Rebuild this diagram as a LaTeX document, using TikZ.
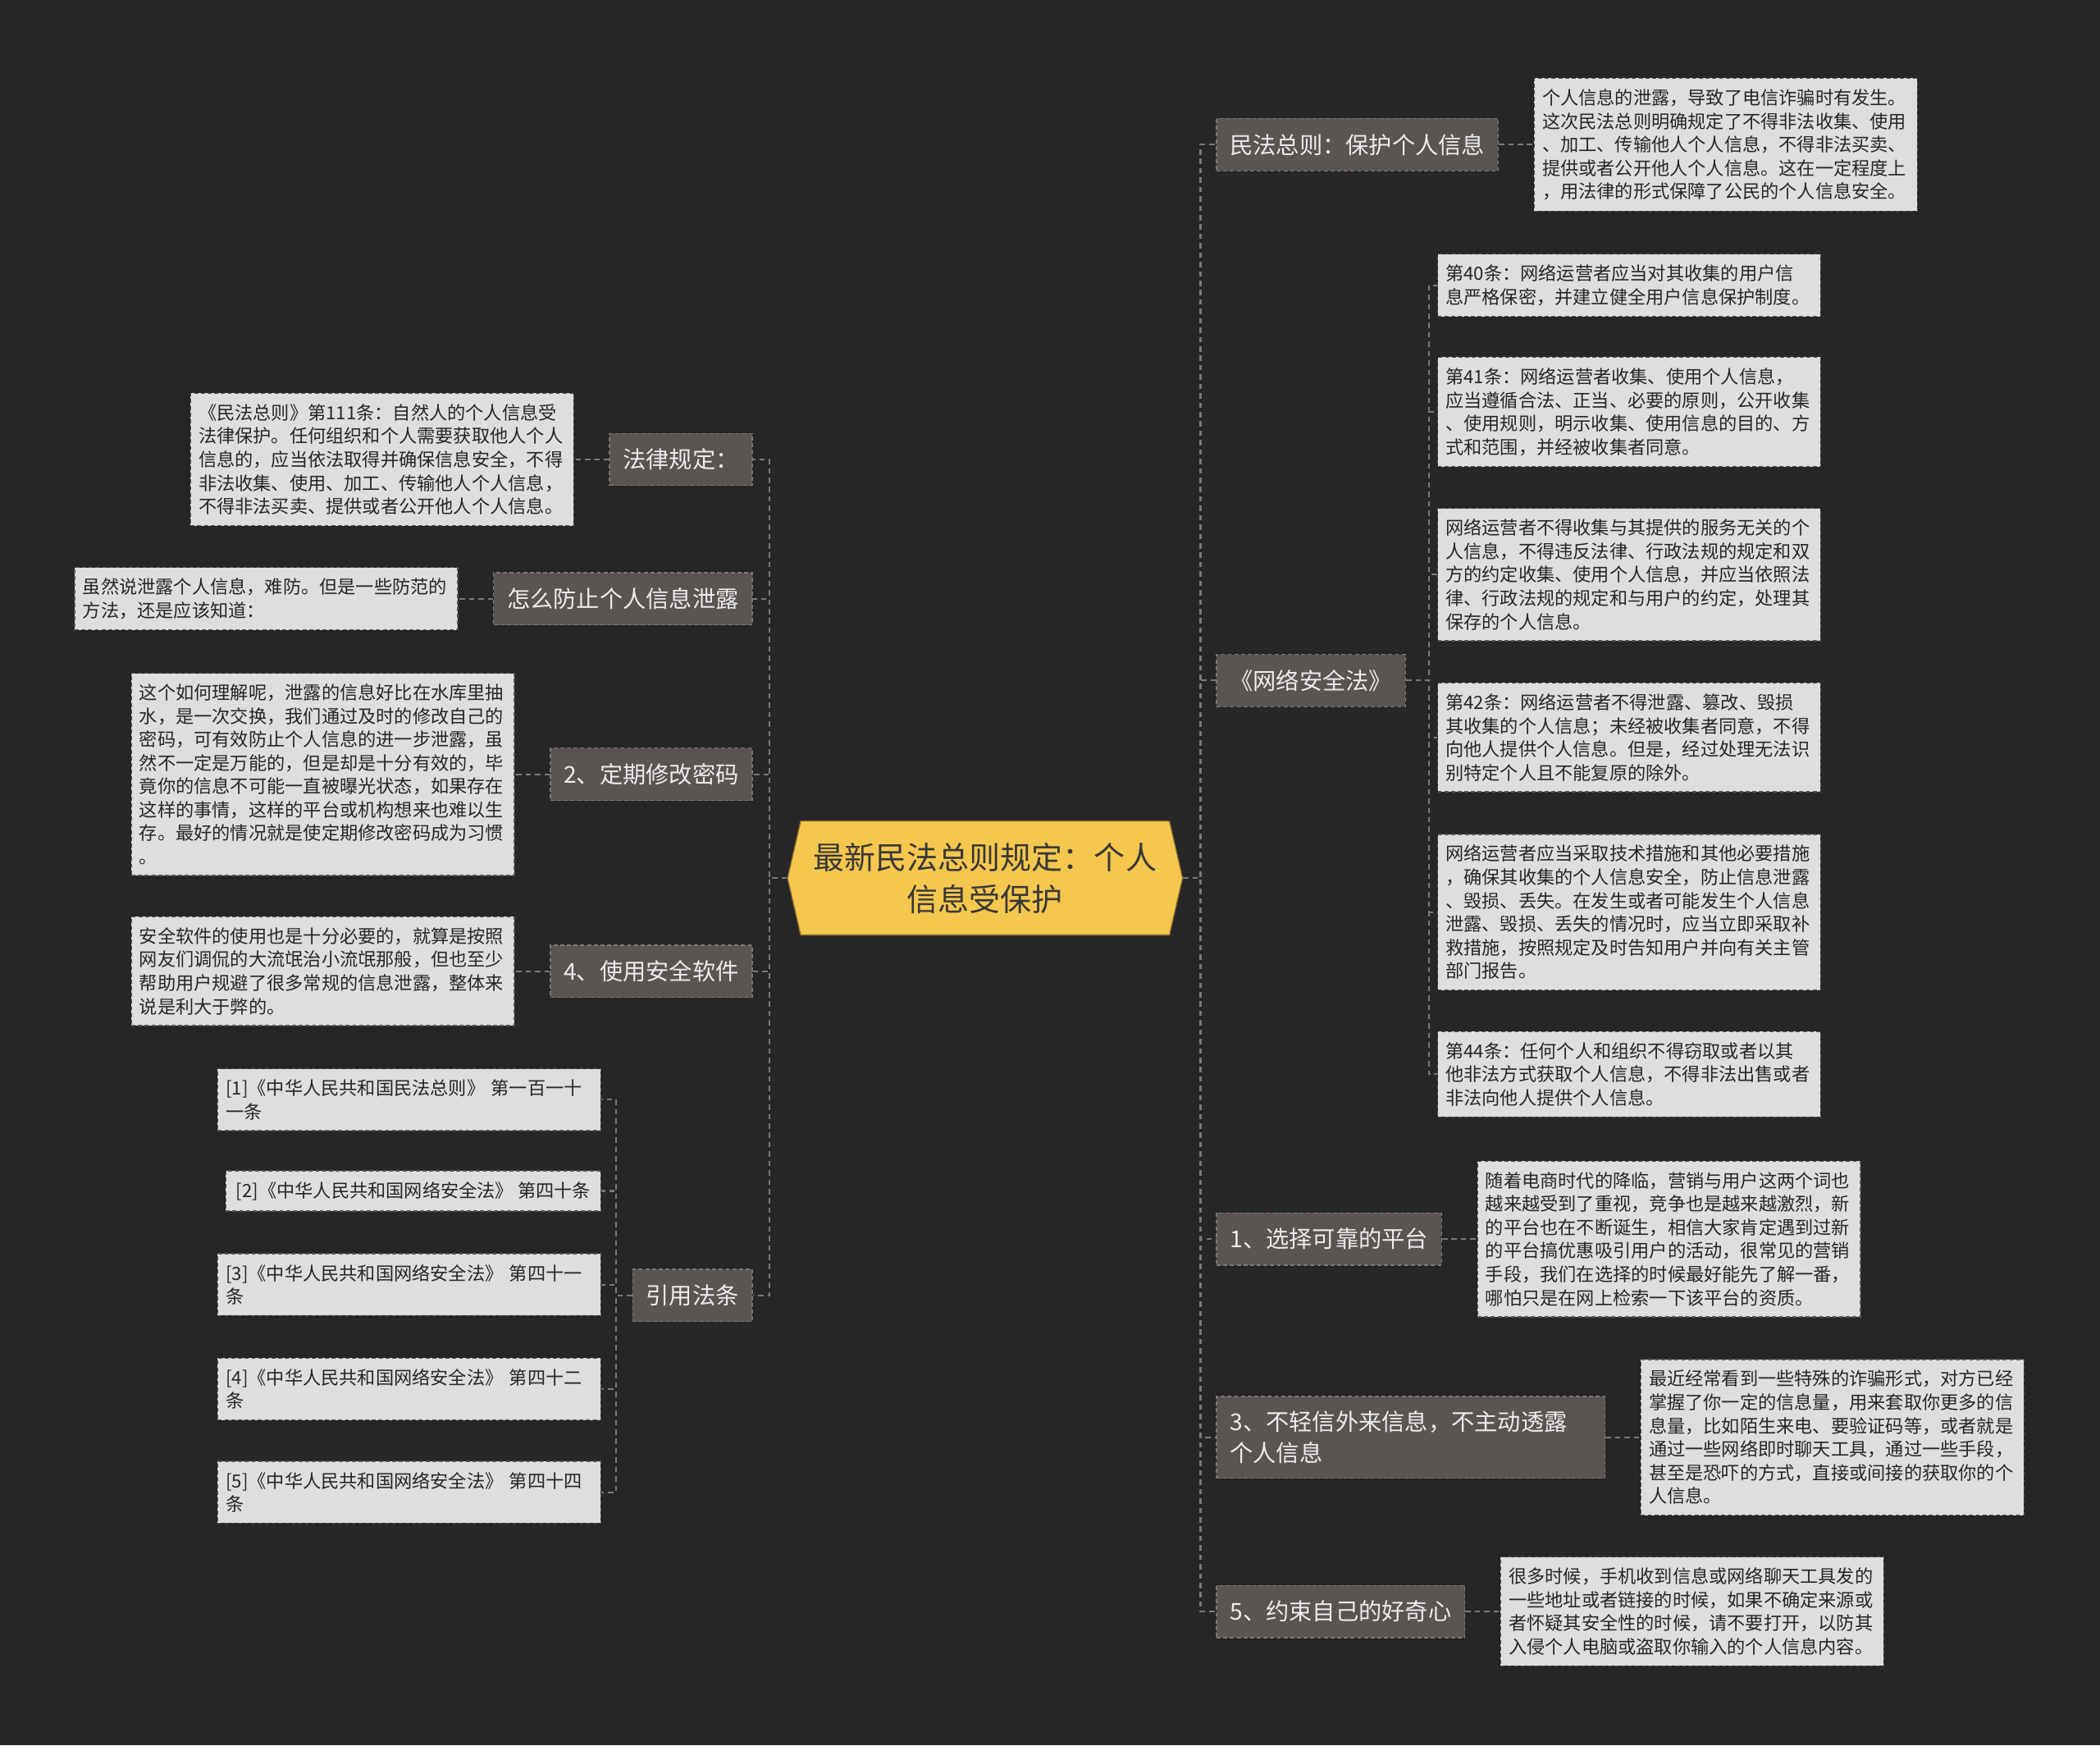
\documentclass[tikz,border=0pt]{standalone}
\usepackage{fontspec}
\setmainfont{Noto Sans CJK SC}
\usepackage{tikz}
\usetikzlibrary{
positioning,
shapes.symbols
}
\definecolor{bgdark}{HTML}{262626}
\definecolor{topicgray}{HTML}{5A5553}
\definecolor{topicline}{HTML}{7C7775}
\definecolor{notegray}{HTML}{DEDEDE}
\definecolor{noteline}{HTML}{555555}
\definecolor{hubyellow}{HTML}{F5C74E}
\definecolor{linkgray}{HTML}{777777}

\begin{document}
\begin{tikzpicture}[
        x=1pt, y=-1pt,
        node distance=26pt,
        hub/.style={signal, signal to=west and east, signal pointer angle=154, fill=hubyellow, draw=hubyellow!55!black, line width=0.8pt, minimum width=295pt, minimum height=85pt, inner sep=0pt, align=center, text=black!78, font=\fontsize{23.3pt}{31pt}\selectfont},
        topic/.style={draw=topicline, dash pattern=on 3pt off 2pt, line width=0.8pt, fill=topicgray, text=white!93!black, font=\fontsize{17.3pt}{23pt}\selectfont, inner xsep=10pt, inner ysep=11pt, minimum height=39pt, align=left},
        notebox/.style={draw=noteline, dash pattern=on 3pt off 2pt, line width=0.8pt, fill=notegray, text=black!85, font=\fontsize{13.6pt}{17.5pt}\selectfont, inner xsep=6pt, inner ysep=8pt, align=left},
        note/.style={notebox, text width=274pt},
        link/.style={draw=linkgray, line width=1.3pt, dash pattern=on 4pt off 3pt}
    ]
        \fill[bgdark] (0,0) rectangle (1568,1303);

        \node[hub] (ctr) at (735.5,655.5) {最新民法总则规定：个人\\信息受保护};

        \node[topic, anchor=west] (b1) at (908,108) {民法总则：保护个人信息};
        \node[note, right=of b1] (d1) {个人信息的泄露，导致了电信诈骗时有发生。\\这次民法总则明确规定了不得非法收集、使用\\、加工、传输他人个人信息，不得非法买卖、\\提供或者公开他人个人信息。这在一定程度上\\，用法律的形式保障了公民的个人信息安全。};

        \node[topic, anchor=west] (b2) at (908,508) {《网络安全法》};
        \node[note, anchor=west] (n40) at (1073,213) {第40条：网络运营者应当对其收集的用户信\\息严格保密，并建立健全用户信息保护制度。};
        \node[note, anchor=west] (n41) at (1073,307.5) {第41条：网络运营者收集、使用个人信息，\\应当遵循合法、正当、必要的原则，公开收集\\、使用规则，明示收集、使用信息的目的、方\\式和范围，并经被收集者同意。};
        \node[note, anchor=west] (n41b) at (1073,429) {网络运营者不得收集与其提供的服务无关的个\\人信息，不得违反法律、行政法规的规定和双\\方的约定收集、使用个人信息，并应当依照法\\律、行政法规的规定和与用户的约定，处理其\\保存的个人信息。};
        \node[note, anchor=west] (n42) at (1073,550.5) {第42条：网络运营者不得泄露、篡改、毁损\\其收集的个人信息；未经被收集者同意，不得\\向他人提供个人信息。但是，经过处理无法识\\别特定个人且不能复原的除外。};
        \node[note, anchor=west] (n42b) at (1073,681) {网络运营者应当采取技术措施和其他必要措施\\，确保其收集的个人信息安全，防止信息泄露\\、毁损、丢失。在发生或者可能发生个人信息\\泄露、毁损、丢失的情况时，应当立即采取补\\救措施，按照规定及时告知用户并向有关主管\\部门报告。};
        \node[note, anchor=west] (n44) at (1073,802) {第44条：任何个人和组织不得窃取或者以其\\他非法方式获取个人信息，不得非法出售或者\\非法向他人提供个人信息。};

        \node[topic, anchor=west] (b3) at (908,925) {1、选择可靠的平台};
        \node[note, right=of b3] (d3) {随着电商时代的降临，营销与用户这两个词也\\越来越受到了重视，竞争也是越来越激烈，新\\的平台也在不断诞生，相信大家肯定遇到过新\\的平台搞优惠吸引用户的活动，很常见的营销\\手段，我们在选择的时候最好能先了解一番，\\哪怕只是在网上检索一下该平台的资质。};

        \node[topic, anchor=west, text width=270pt] (b4) at (908,1073) {3、不轻信外来信息，不主动透露\\个人信息};
        \node[note, right=of b4] (d4) {最近经常看到一些特殊的诈骗形式，对方已经\\掌握了你一定的信息量，用来套取你更多的信\\息量，比如陌生来电、要验证码等，或者就是\\通过一些网络即时聊天工具，通过一些手段，\\甚至是恐吓的方式，直接或间接的获取你的个\\人信息。};

        \node[topic, anchor=west] (b5) at (908,1203) {5、约束自己的好奇心};
        \node[note, right=of b5] (d5) {很多时候，手机收到信息或网络聊天工具发的\\一些地址或者链接的时候，如果不确定来源或\\者怀疑其安全性的时候，请不要打开，以防其\\入侵个人电脑或盗取你输入的个人信息内容。};

        \node[topic, anchor=east] (l1) at (562,343) {法律规定：};
        \node[note, left=of l1] (dl1) {《民法总则》第111条：自然人的个人信息受\\法律保护。任何组织和个人需要获取他人个人\\信息的，应当依法取得并确保信息安全，不得\\非法收集、使用、加工、传输他人个人信息，\\不得非法买卖、提供或者公开他人个人信息。};

        \node[topic, anchor=east] (l2) at (562,447) {怎么防止个人信息泄露};
        \node[note, left=of l2] (dl2) {虽然说泄露个人信息，难防。但是一些防范的\\方法，还是应该知道：};

        \node[topic, anchor=east] (l3) at (562,578) {2、定期修改密码};
        \node[note, left=of l3] (dl3) {这个如何理解呢，泄露的信息好比在水库里抽\\水，是一次交换，我们通过及时的修改自己的\\密码，可有效防止个人信息的进一步泄露，虽\\然不一定是万能的，但是却是十分有效的，毕\\竟你的信息不可能一直被曝光状态，如果存在\\这样的事情，这样的平台或机构想来也难以生\\存。最好的情况就是使定期修改密码成为习惯\\。};

        \node[topic, anchor=east] (l4) at (562,725) {4、使用安全软件};
        \node[note, left=of l4] (dl4) {安全软件的使用也是十分必要的，就算是按照\\网友们调侃的大流氓治小流氓那般，但也至少\\帮助用户规避了很多常规的信息泄露，整体来\\说是利大于弊的。};

        \node[topic, anchor=east] (l5) at (562,967) {引用法条};
        \node[note, anchor=east] (c1) at (449,821) {[1]《中华人民共和国民法总则》 第一百一十\\一条};
        \node[notebox, anchor=east, minimum width=280pt] (c2) at (449,889) {[2]《中华人民共和国网络安全法》 第四十条};
        \node[note, anchor=east] (c3) at (449,959) {[3]《中华人民共和国网络安全法》 第四十一\\条};
        \node[note, anchor=east] (c4) at (449,1037) {[4]《中华人民共和国网络安全法》 第四十二\\条};
        \node[note, anchor=east] (c5) at (449,1114) {[5]《中华人民共和国网络安全法》 第四十四\\条};

        \draw[link] (ctr.east) -- ++(13,0) |- (b1.west);
        \draw[link] (ctr.east) -- ++(13,0) |- (b2.west);
        \draw[link] (ctr.east) -- ++(13,0) |- (b3.west);
        \draw[link] (ctr.east) -- ++(13,0) |- (b4.west);
        \draw[link] (ctr.east) -- ++(13,0) |- (b5.west);
        \draw[link] (b1.east) -- (d1.west);
        \draw[link] (b3.east) -- (d3.west);
        \draw[link] (b4.east) -- (d4.west);
        \draw[link] (b5.east) -- (d5.west);
        \draw[link] (b2.east) -- ++(17,0) |- (n40.west);
        \draw[link] (b2.east) -- ++(17,0) |- (n41.west);
        \draw[link] (b2.east) -- ++(17,0) |- (n41b.west);
        \draw[link] (b2.east) -- ++(17,0) |- (n42.west);
        \draw[link] (b2.east) -- ++(17,0) |- (n42b.west);
        \draw[link] (b2.east) -- ++(17,0) |- (n44.west);

        \draw[link] (ctr.west) -- ++(-13,0) |- (l1.east);
        \draw[link] (ctr.west) -- ++(-13,0) |- (l2.east);
        \draw[link] (ctr.west) -- ++(-13,0) |- (l3.east);
        \draw[link] (ctr.west) -- ++(-13,0) |- (l4.east);
        \draw[link] (ctr.west) -- ++(-13,0) |- (l5.east);
        \draw[link] (l1.west) -- (dl1.east);
        \draw[link] (l2.west) -- (dl2.east);
        \draw[link] (l3.west) -- (dl3.east);
        \draw[link] (l4.west) -- (dl4.east);
        \draw[link] (l5.west) -- ++(-12,0) |- (c1.east);
        \draw[link] (l5.west) -- ++(-12,0) |- (c2.east);
        \draw[link] (l5.west) -- ++(-12,0) |- (c3.east);
        \draw[link] (l5.west) -- ++(-12,0) |- (c4.east);
        \draw[link] (l5.west) -- ++(-12,0) |- (c5.east);
    \end{tikzpicture}
\end{document}
